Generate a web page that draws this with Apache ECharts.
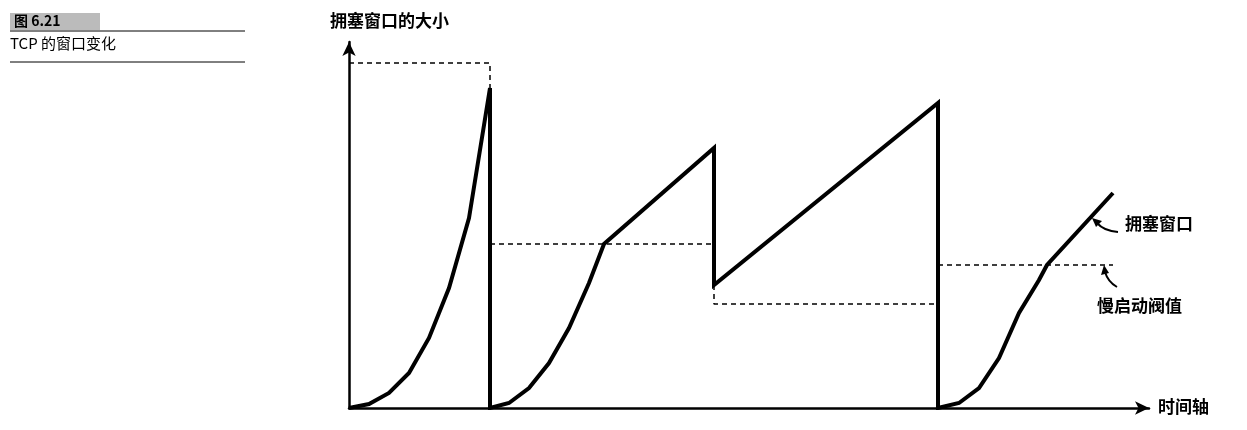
<!DOCTYPE html>
<html><head><meta charset="utf-8">
<script src="https://cdn.jsdelivr.net/npm/echarts@6/dist/echarts.min.js"></script>
<style>html,body{margin:0;background:#fff}#c{width:1247px;height:430px}</style>
</head><body><div id="c"></div>
<script>
// time (x) and window size (y) in chart units
const cwndPoints = [[0,0],[20,4],[40,15],[60,35],[80,70],[100,120],[120,190],[141,320],[141,0],
  [160,5],[180,20],[200,45],[220,80],[240,125],[255,164],[365,260],[365,123],[589,305],[589,0],
  [610,5],[630,20],[650,50],[670,95],[690,128],[698,143],[764,215]];
const thresh1 = [[0,345],[141,345],[141,320]];
const thresh2 = [[141,164],[365,164]];
const thresh3 = [[365,123],[365,104],[589,104]];
const thresh4 = [[589,143],[764,143]];
const labels = [
  {name:'超时', x:150, y:330, align:'left'},
  {name:'重复确认应答', x:365, y:280, align:'center'},
  {name:'超时', x:589, y:300, align:'center'}
];
const F = '"Noto Sans CJK SC", sans-serif';
const dashed = d => ({type:'line', data:d, symbol:'none', silent:true,
  lineStyle:{color:'#000', width:1.5, type:[5,4]}});
const chart = echarts.init(document.getElementById('c'));
chart.setOption({
  animation:false,
  grid:{left:349, right:98, top:42, bottom:22},
  xAxis:{type:'value', min:0, max:800, splitLine:{show:false}, axisTick:{show:false}, axisLabel:{show:false},
    axisLine:{onZero:false, symbol:['none','arrow'], symbolSize:[10,14], lineStyle:{color:'#000', width:2.5}}},
  yAxis:{type:'value', min:0, max:366, splitLine:{show:false}, axisTick:{show:false}, axisLabel:{show:false},
    axisLine:{show:true, symbol:['none','arrow'], symbolSize:[10,14], lineStyle:{color:'#000', width:2.5}}},
  series:[
    dashed(thresh1), dashed(thresh2), dashed(thresh3), dashed(thresh4),
    {type:'line', data:cwndPoints, symbol:'none', smooth:false,
      lineStyle:{color:'#000', width:4, join:'miter'}},
    {type:'scatter', symbolSize:1, itemStyle:{opacity:0}, data:labels.map(l=>({value:[l.x,l.y],
      label:{show:true, formatter:l.name, position:'top', distance:0, align:l.align,
        color:'#000', fontSize:17, fontWeight:'bold', fontFamily:F}}))}
  ],
  graphic:[
    {type:'rect', shape:{x:10,y:13,width:90,height:17}, style:{fill:'#bbb'}},
    {type:'text', x:14, y:14, style:{text:'图 6.21', font:'bold 14px '+F, fill:'#000'}},
    {type:'line', shape:{x1:10,y1:31,x2:245,y2:31}, style:{stroke:'#000', lineWidth:1}},
    {type:'text', x:10, y:36, style:{text:'TCP 的窗口变化', font:'15px '+F, fill:'#000'}},
    {type:'line', shape:{x1:10,y1:62,x2:245,y2:62}, style:{stroke:'#000', lineWidth:1}},
    {type:'text', x:330, y:12, style:{text:'拥塞窗口的大小', font:'bold 17px '+F, fill:'#000'}},
    {type:'text', x:1158, y:398, style:{text:'时间轴', font:'bold 17px '+F, fill:'#000'}},
    {type:'text', x:1125, y:215, style:{text:'拥塞窗口', font:'bold 17px '+F, fill:'#000'}},
    {type:'text', x:1097, y:297, style:{text:'慢启动阀值', font:'bold 17px '+F, fill:'#000'}},
    {type:'bezierCurve', shape:{x1:1118,y1:232,cpx1:1104,cpy1:231,x2:1097,y2:223}, style:{stroke:'#000', fill:'none', lineWidth:2}},
    {type:'polygon', shape:{points:[[1092,218],[1102,221],[1096,227]]}, style:{fill:'#000'}},
    {type:'bezierCurve', shape:{x1:1117,y1:287,cpx1:1108,cpy1:282,x2:1105,y2:272}, style:{stroke:'#000', fill:'none', lineWidth:2}},
    {type:'polygon', shape:{points:[[1104,265],[1101,275],[1109,273]]}, style:{fill:'#000'}}
  ]
});
</script></body></html>
